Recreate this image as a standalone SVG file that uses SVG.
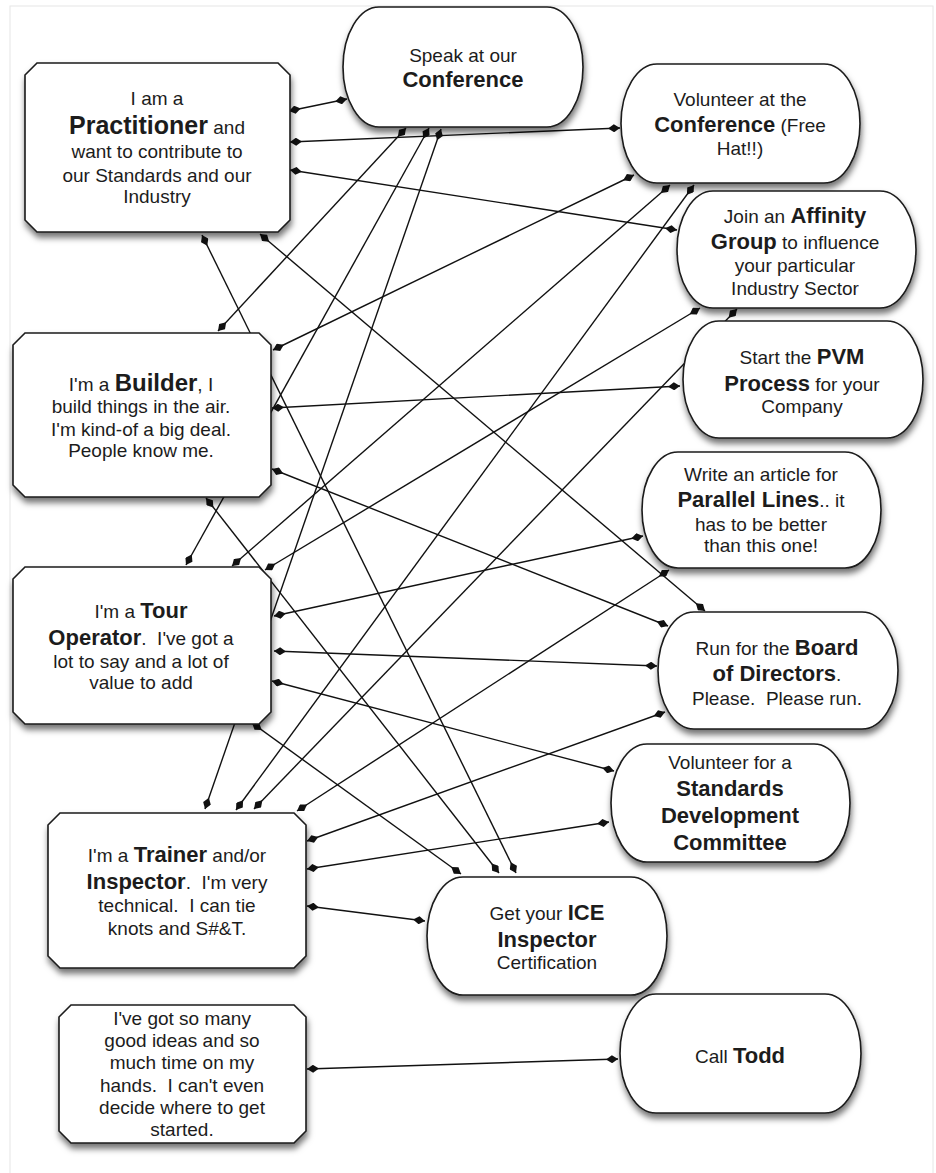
<svg xmlns="http://www.w3.org/2000/svg" width="936" height="1173" viewBox="0 0 936 1173">
<defs>
<filter id="sh" x="-10%" y="-10%" width="125%" height="130%">
<feDropShadow dx="1" dy="5" stdDeviation="3" flood-color="#000" flood-opacity="0.55"/>
</filter>
<marker id="dm" viewBox="0 0 12 8" refX="12" refY="4" markerWidth="12" markerHeight="8" markerUnits="userSpaceOnUse" orient="auto-start-reverse">
<path d="M0,4 L6,0 L12,4 L6,8 Z" fill="#111"/>
</marker>
<style>
.shape{fill:#fff;stroke:#1a1a1a;stroke-width:1.6;filter:url(#sh)}
text{font-family:"Liberation Sans",Arial,Helvetica,sans-serif;font-size:19px;fill:#1c1c1c;text-anchor:middle;white-space:pre}
.b{font-weight:bold;font-size:22px}
.conn line{stroke:#111;stroke-width:1.4;marker-start:url(#dm);marker-end:url(#dm)}
</style>
</defs>
<rect x="0" y="0" width="936" height="1173" fill="#fff"/>
<rect x="10" y="6" width="923" height="1180" fill="none" stroke="#e6e6e6" stroke-width="1"/>

<g id="connectors" class="conn">
<line x1="289" y1="111" x2="347" y2="99"/>
<line x1="290" y1="142" x2="620" y2="128"/>
<line x1="290" y1="170" x2="677" y2="230"/>
<line x1="202" y1="235" x2="516" y2="873"/>
<line x1="260" y1="234" x2="705" y2="611"/>
<line x1="406" y1="128" x2="218" y2="331"/>
<line x1="429" y1="128" x2="186" y2="565"/>
<line x1="441" y1="129" x2="205" y2="809"/>
<line x1="634" y1="175" x2="273" y2="350"/>
<line x1="670" y1="185" x2="232" y2="566"/>
<line x1="694" y1="185" x2="236" y2="810"/>
<line x1="700" y1="308" x2="265" y2="570"/>
<line x1="737" y1="309" x2="254" y2="809"/>
<line x1="272" y1="408" x2="680" y2="386"/>
<line x1="272" y1="469" x2="668" y2="626"/>
<line x1="206" y1="498" x2="499" y2="873"/>
<line x1="274" y1="616" x2="643" y2="536"/>
<line x1="274" y1="651" x2="657" y2="666"/>
<line x1="272" y1="681" x2="614" y2="771"/>
<line x1="252" y1="723" x2="461" y2="874"/>
<line x1="297" y1="811" x2="669" y2="570"/>
<line x1="307" y1="841" x2="665" y2="712"/>
<line x1="307" y1="869" x2="609" y2="822"/>
<line x1="307" y1="906" x2="425" y2="921"/>
<line x1="307" y1="1069" x2="618" y2="1059"/>
</g>

<g id="practitioner">
<path class="shape" d="M37,63 H278 L290,75 V220 L278,232 H37 L25,220 V75 Z"/>
<text x="157" y="105">I am a</text>
<text x="157" y="134"><tspan class="b" style="font-size:25px">Practitioner</tspan> and</text>
<text x="157" y="158">want to contribute to</text>
<text x="157" y="182">our Standards and our</text>
<text x="157" y="203">Industry</text>
</g>

<g id="builder">
<path class="shape" d="M25,333 H259 L271,345 V485 L259,497 H25 L13,485 V345 Z"/>
<text x="141" y="391">I'm a <tspan class="b" style="font-size:24px">Builder</tspan>, I</text>
<text x="141" y="413">build things in the air.</text>
<text x="141" y="436">I'm kind-of a big deal.</text>
<text x="141" y="457">People know me.</text>
</g>

<g id="tour">
<path class="shape" d="M25,567 H259 L271,579 V712 L259,724 H25 L13,712 V579 Z"/>
<text x="141" y="618">I'm a <tspan class="b">Tour</tspan></text>
<text x="141" y="645"><tspan class="b">Operator</tspan>.  I've got a</text>
<text x="141" y="668">lot to say and a lot of</text>
<text x="141" y="689">value to add</text>
</g>

<g id="trainer">
<path class="shape" d="M60,813 H294 L306,825 V956 L294,968 H60 L48,956 V825 Z"/>
<text x="177" y="862">I'm a <tspan class="b">Trainer</tspan> and/or</text>
<text x="177" y="889"><tspan class="b">Inspector</tspan>.  I'm very</text>
<text x="177" y="912">technical.  I can tie</text>
<text x="177" y="935">knots and S#&amp;T.</text>
</g>

<g id="ideas">
<path class="shape" d="M71,1005 H294 L306,1017 V1131 L294,1143 H71 L59,1131 V1017 Z"/>
<text x="182" y="1025">I've got so many</text>
<text x="182" y="1047">good ideas and so</text>
<text x="182" y="1069">much time on my</text>
<text x="182" y="1092">hands.  I can't even</text>
<text x="182" y="1114">decide where to get</text>
<text x="182" y="1136">started.</text>
</g>

<g id="speak">
<rect class="shape" x="343" y="7" width="240" height="120" rx="36" ry="60"/>
<text x="463" y="62">Speak at our</text>
<text x="463" y="87"><tspan class="b">Conference</tspan></text>
</g>

<g id="volunteer-conference">
<rect class="shape" x="621" y="64" width="239" height="119" rx="36" ry="59.5"/>
<text x="740" y="106">Volunteer at the</text>
<text x="740" y="132"><tspan class="b">Conference</tspan> (Free</text>
<text x="740" y="155">Hat!!)</text>
</g>

<g id="affinity">
<rect class="shape" x="677" y="191" width="239" height="117" rx="36" ry="58.5"/>
<text x="795" y="223">Join an <tspan class="b">Affinity</tspan></text>
<text x="795" y="249"><tspan class="b">Group</tspan> to influence</text>
<text x="795" y="272">your particular</text>
<text x="795" y="295">Industry Sector</text>
</g>

<g id="pvm">
<rect class="shape" x="683" y="321" width="240" height="117" rx="36" ry="58.5"/>
<text x="802" y="364">Start the <tspan class="b">PVM</tspan></text>
<text x="802" y="391"><tspan class="b">Process</tspan> for your</text>
<text x="802" y="413">Company</text>
</g>

<g id="article">
<rect class="shape" x="642" y="452" width="239" height="116" rx="36" ry="58"/>
<text x="761" y="481">Write an article for</text>
<text x="761" y="507"><tspan class="b">Parallel Lines</tspan>.. it</text>
<text x="761" y="531">has to be better</text>
<text x="761" y="552">than this one!</text>
</g>

<g id="board">
<rect class="shape" x="658" y="612" width="240" height="117" rx="36" ry="58.5"/>
<text x="777" y="655">Run for the <tspan class="b">Board</tspan></text>
<text x="777" y="681"><tspan class="b">of Directors</tspan>.</text>
<text x="777" y="705">Please.  Please run.</text>
</g>

<g id="standards">
<rect class="shape" x="611" y="744" width="239" height="118" rx="36" ry="59"/>
<text x="730" y="769">Volunteer for a</text>
<text x="730" y="796"><tspan class="b">Standards</tspan></text>
<text x="730" y="823"><tspan class="b">Development</tspan></text>
<text x="730" y="850"><tspan class="b">Committee</tspan></text>
</g>

<g id="ice">
<rect class="shape" x="427" y="877" width="240" height="118" rx="36" ry="59"/>
<text x="547" y="920">Get your <tspan class="b">ICE</tspan></text>
<text x="547" y="947"><tspan class="b">Inspector</tspan></text>
<text x="547" y="969">Certification</text>
</g>

<g id="todd">
<rect class="shape" x="620" y="994" width="241" height="119" rx="36" ry="59.5"/>
<text x="740" y="1063">Call <tspan class="b">Todd</tspan></text>
</g>
</svg>
